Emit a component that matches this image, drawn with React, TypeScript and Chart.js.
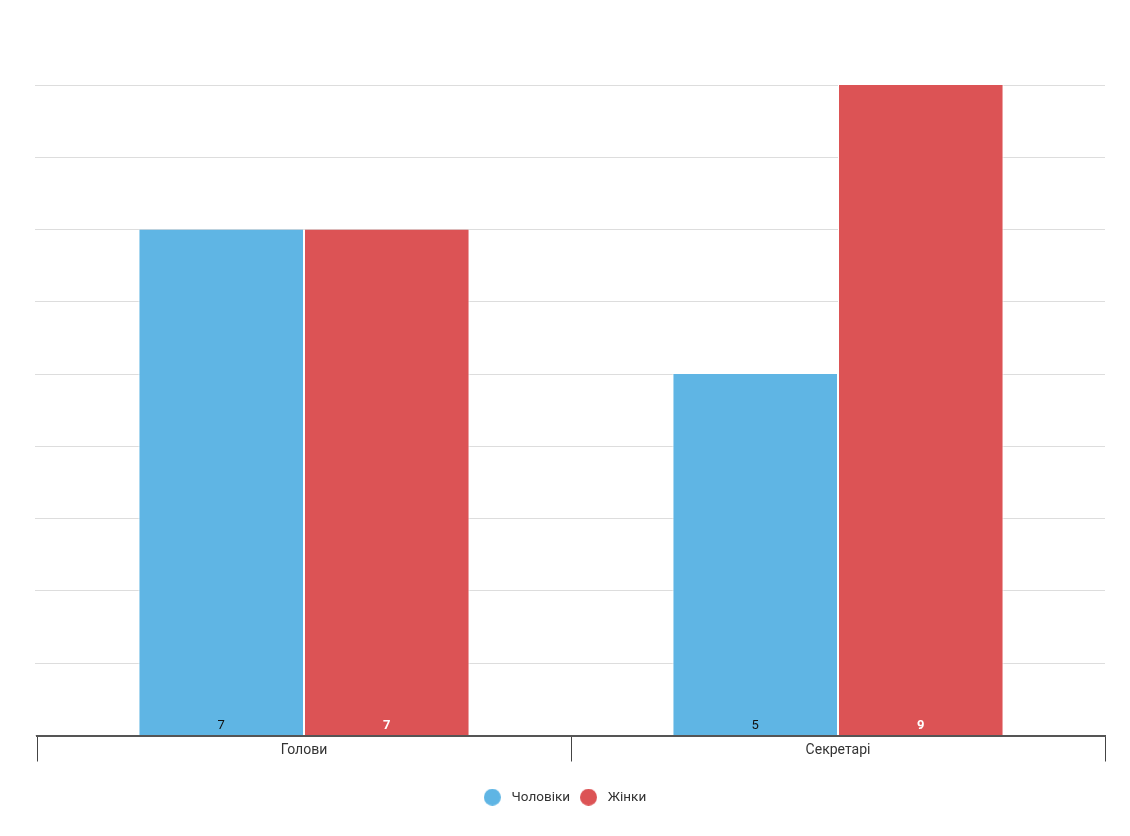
import React, { useEffect, useRef } from "react";
import { Chart, registerables } from "chart.js";

Chart.register(...registerables);

const categories = ["Голови", "Секретарі"];
const seriesNames = ["Чоловіки", "Жінки"];
const menValues = [7, 5];
const womenValues = [7, 9];
const seriesColors = ["#5fb5e4", "#dc5355"];
const labelColors = ["#111111", "#ffffff"];
const labelWeights = ["normal", "bold"];

const valueLabels = {
  id: "valueLabels",
  afterLayout(chart: any) {
    if (chart.legend) {
      chart.legend.left -= 7;
      chart.legend.right -= 7;
    }
  },
  afterDatasetsDraw(chart: any) {
    const ctx = chart.ctx;
    const bottom = chart.chartArea.bottom;
    chart.data.datasets.forEach((ds: any, i: number) => {
      const meta = chart.getDatasetMeta(i);
      meta.data.forEach((bar: any, j: number) => {
        ctx.save();
        ctx.font = `${labelWeights[i]} 13px Roboto`;
        ctx.fillStyle = labelColors[i];
        ctx.textAlign = "center";
        ctx.textBaseline = "middle";
        ctx.fillText(String(ds.data[j]), bar.x, bottom - 10);
        ctx.restore();
      });
    });
  },
};

function makeDot(color: string) {
  const c = document.createElement("canvas");
  c.width = 17;
  c.height = 17;
  const g = c.getContext("2d")!;
  g.fillStyle = color;
  g.beginPath();
  g.arc(8.5, 8.5, 8.5, 0, Math.PI * 2);
  g.fill();
  return c;
}

export default function App() {
  const ref = useRef<HTMLCanvasElement | null>(null);
  useEffect(() => {
    if (!ref.current) return;
    const dots = seriesColors.map(makeDot);
    const values = [menValues, womenValues];
    const chart = new Chart(ref.current, {
      type: "bar",
      data: {
        labels: categories,
        datasets: seriesNames.map((name, i) => ({
          label: name,
          data: values[i],
          backgroundColor: seriesColors[i],
          borderColor: "#ffffff",
          borderWidth: { left: 1, right: 1, top: 0, bottom: 0 } as any,
          borderSkipped: false,
          categoryPercentage: 0.62,
          barPercentage: 1,
          pointStyle: dots[i] as any,
        })),
      },
      options: {
        animation: false,
        responsive: false,
        maintainAspectRatio: false,
        layout: { padding: { top: 85, left: 35, right: 25, bottom: 22 } },
        scales: {
          x: {
            afterFit: (scale: any) => {
              scale.height = 49;
            },
            grid: {
              offset: true,
              drawOnChartArea: false,
              drawTicks: true,
              tickLength: 26,
              color: "#444444",
              lineWidth: 1,
            },
            border: { display: true, color: "#555555", width: 2 },
            ticks: {
              padding: -19,
              color: "#333333",
              font: { family: "Roboto", size: 14 },
            },
          },
          y: {
            min: 0,
            max: 9,
            ticks: { display: false, stepSize: 1 },
            grid: { color: "#dddddd", drawTicks: true, tickLength: 2, lineWidth: 1 },
            border: { display: false },
          },
        },
        plugins: {
          legend: {
            position: "bottom",
            labels: {
              usePointStyle: true,
              pointStyleWidth: 25,
              boxWidth: 25,
              boxHeight: 17,
              color: "#333333",
              padding: 6,
              font: { family: "Roboto", size: 13.5 },
            },
          },
          tooltip: { enabled: false },
        },
      },
      plugins: [valueLabels],
    });
    return () => chart.destroy();
  }, []);
  return (
    <div style={{ position: "absolute", left: 0, top: 0, width: 1130, height: 836, background: "#fff" }}>
      <canvas ref={ref} width={1130} height={836} style={{ width: 1130, height: 836 }} />
    </div>
  );
}
